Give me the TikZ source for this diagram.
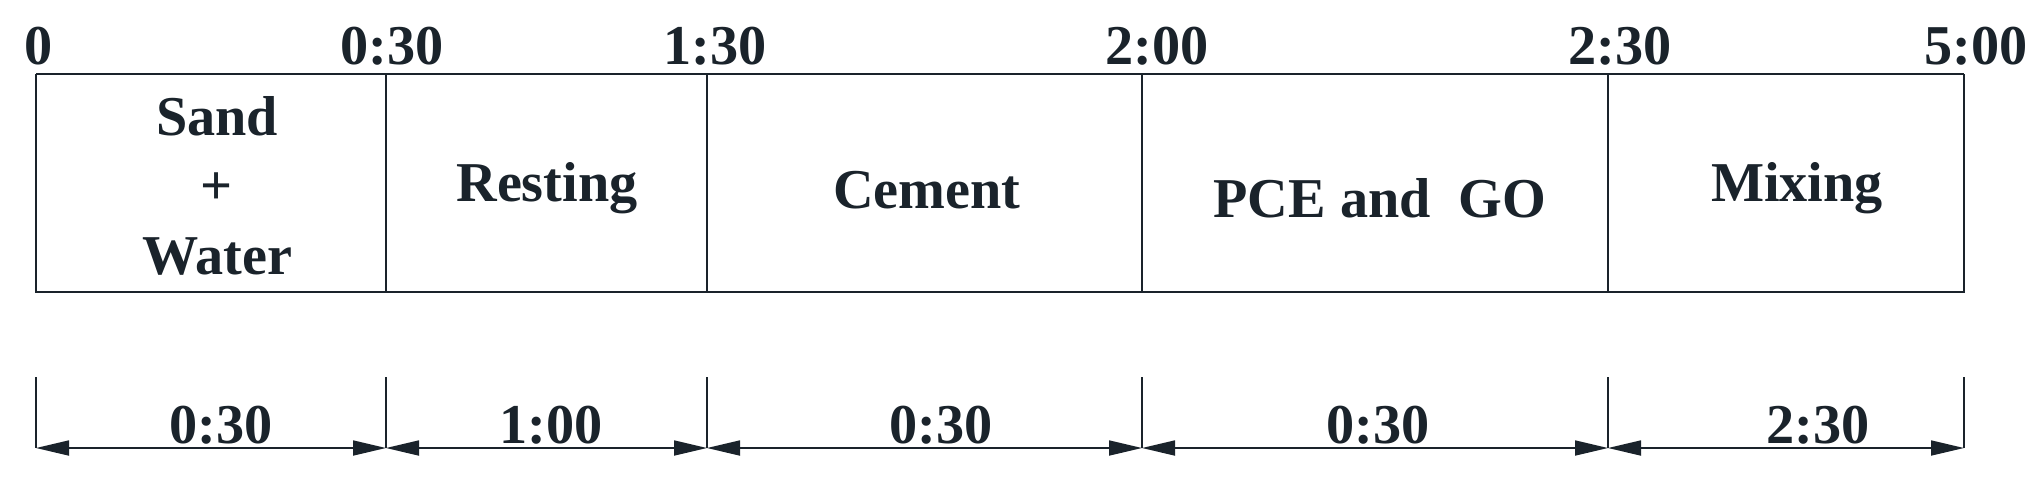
\documentclass[tikz,border=0pt]{standalone}
\usepackage{fontspec}
\setmainfont{Liberation Serif}
\usetikzlibrary{arrows.meta}
\definecolor{ink}{RGB}{26,35,43}
\begin{document}
\begin{tikzpicture}[x=0.1mm,y=-0.1mm, line width=0.4pt, draw=ink,
  lbl/.style={font=\fontsize{16}{19}\selectfont\bfseries, text=ink, inner sep=0pt, anchor=base},
  dimline/.style={draw=ink, line width=0.5pt, {Triangle[length=3.3mm,width=1.5mm]}-{Triangle[length=3.3mm,width=1.5mm]}},
  extline/.style={draw=ink, line width=0.35pt}]
\useasboundingbox (0,0) rectangle (2038,478);
% box corners and dividers
\coordinate (t0) at (36,74);   \coordinate (u0) at (36,292);
\coordinate (t1) at (386,74);  \coordinate (u1) at (386,292);
\coordinate (t2) at (707,74);  \coordinate (u2) at (707,292);
\coordinate (t3) at (1142,74); \coordinate (u3) at (1142,292);
\coordinate (t4) at (1608,74); \coordinate (u4) at (1608,292);
\coordinate (t5) at (1964,74); \coordinate (u5) at (1964,292);
\draw[ink] (t0) -- (u0) -- (u5) -- (t5);
\draw[ink, line width=0.7pt] (t0) -- (t5);
\draw[ink] (t1) -- (u1);
\draw[ink] (t2) -- (u2);
\draw[ink, line width=0.55pt] (t3) -- (u3);
\draw[ink] (t4) -- (u4);
% time marks
\node[lbl] (m0) at (39,64) {0};
\node[lbl] (m1) at (392,64) {0:30};
\node[lbl] (m2) at (715,64) {1:30};
\node[lbl] (m3) at (1157,64) {2:00};
\node[lbl] (m4) at (1620,64) {2:30};
\node[lbl] (m5) at (1976,64) {5:00};
% stage texts
\node[lbl] (sand) at (217,135) {Sand};
\node[lbl] (plus) at (217,204) {+};
\node[lbl] (water) at (217,274) {Water};
\node[lbl] (rest) at (547,201) {Resting};
\node[lbl] (cem) at (927,208) {Cement};
\node[lbl] (pce) at (1380,217) {PCE and~~GO};
\node[lbl] (mix) at (1797,201) {Mixing};
% extension lines
\coordinate (e0) at (36,377);   \coordinate (d0) at (36,448);
\coordinate (e1) at (386,377);  \coordinate (d1) at (386,448);
\coordinate (e2) at (707,377);  \coordinate (d2) at (707,448);
\coordinate (e3) at (1142,377); \coordinate (d3) at (1142,448);
\coordinate (e4) at (1608,377); \coordinate (d4) at (1608,448);
\coordinate (e5) at (1964,377); \coordinate (d5) at (1964,448);
\draw[extline] (e0) -- (d0);
\draw[extline] (e1) -- (d1);
\draw[extline] (e2) -- (d2);
\draw[extline] (e3) -- (d3);
\draw[extline] (e4) -- (d4);
\draw[extline] (e5) -- (d5);
% dimension lines
\draw[dimline] (d0) -- (d1);
\draw[dimline] (d1) -- (d2);
\draw[dimline] (d2) -- (d3);
\draw[dimline] (d3) -- (d4);
\draw[dimline] (d4) -- (d5);
% durations
\node[lbl] (l1) at (221,443) {0:30};
\node[lbl] (l2) at (551,443) {1:00};
\node[lbl] (l3) at (941,443) {0:30};
\node[lbl] (l4) at (1378,443) {0:30};
\node[lbl] (l5) at (1818,443) {2:30};
\end{tikzpicture}
\end{document}
